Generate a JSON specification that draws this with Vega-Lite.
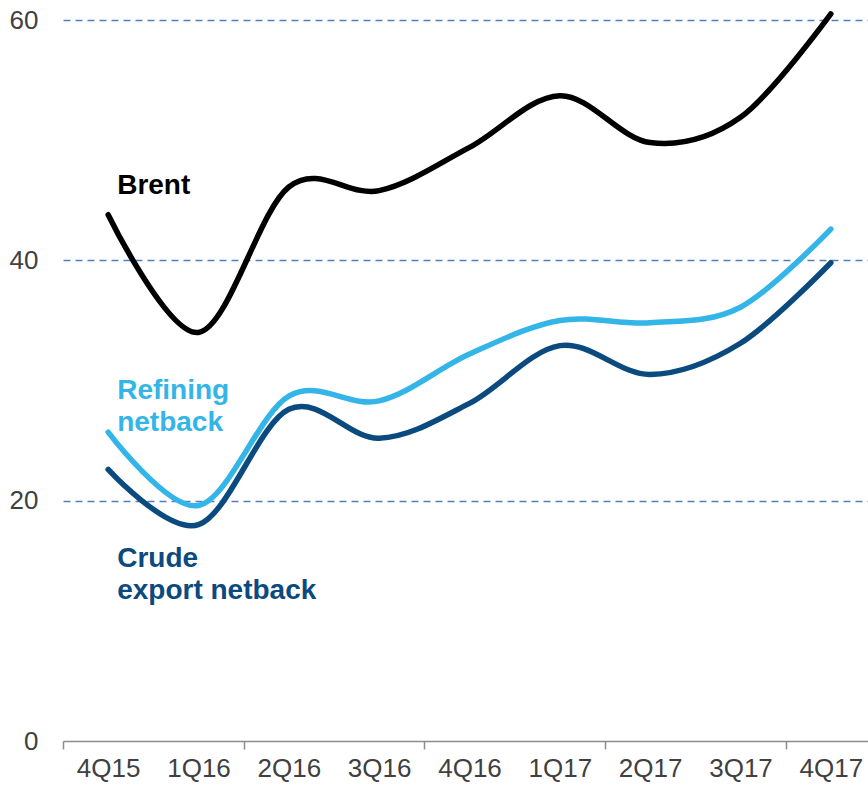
{
  "$schema": "https://vega.github.io/schema/vega-lite/v6.json",
  "width": 813,
  "height": 721,
  "autosize": {"type": "none"},
  "padding": {"left": 63, "top": 20, "right": 0, "bottom": 44},
  "background": "white",
  "config": {"view": {"stroke": null}, "font": "Liberation Sans"},
  "datasets": {
    "lines": [
      {"series": "Brent", "quarter": "4Q15", "value": 43.8},
      {"series": "Brent", "quarter": "1Q16", "value": 34.0},
      {"series": "Brent", "quarter": "2Q16", "value": 46.1},
      {"series": "Brent", "quarter": "3Q16", "value": 45.8},
      {"series": "Brent", "quarter": "4Q16", "value": 49.4},
      {"series": "Brent", "quarter": "1Q17", "value": 53.7},
      {"series": "Brent", "quarter": "2Q17", "value": 49.8},
      {"series": "Brent", "quarter": "3Q17", "value": 51.9},
      {"series": "Brent", "quarter": "4Q17", "value": 60.5},
      {"series": "Refining netback", "quarter": "4Q15", "value": 25.7},
      {"series": "Refining netback", "quarter": "1Q16", "value": 19.6},
      {"series": "Refining netback", "quarter": "2Q16", "value": 28.7},
      {"series": "Refining netback", "quarter": "3Q16", "value": 28.3},
      {"series": "Refining netback", "quarter": "4Q16", "value": 32.2},
      {"series": "Refining netback", "quarter": "1Q17", "value": 35.0},
      {"series": "Refining netback", "quarter": "2Q17", "value": 34.8},
      {"series": "Refining netback", "quarter": "3Q17", "value": 36.1},
      {"series": "Refining netback", "quarter": "4Q17", "value": 42.6},
      {"series": "Crude export netback", "quarter": "4Q15", "value": 22.6},
      {"series": "Crude export netback", "quarter": "1Q16", "value": 18.0},
      {"series": "Crude export netback", "quarter": "2Q16", "value": 27.6},
      {"series": "Crude export netback", "quarter": "3Q16", "value": 25.2},
      {"series": "Crude export netback", "quarter": "4Q16", "value": 28.1},
      {"series": "Crude export netback", "quarter": "1Q17", "value": 32.9},
      {"series": "Crude export netback", "quarter": "2Q17", "value": 30.5},
      {"series": "Crude export netback", "quarter": "3Q17", "value": 33.1},
      {"series": "Crude export netback", "quarter": "4Q17", "value": 39.8}
    ],
    "labels": [
      {"series": "Brent", "quarter": "4Q15", "value": 45.5, "label": ["Brent"]},
      {"series": "Refining netback", "quarter": "4Q15", "value": 28.5, "label": ["Refining", "netback"]},
      {"series": "Crude export netback", "quarter": "4Q15", "value": 14.5, "label": ["Crude", "export netback"]}
    ]
  },
  "layer": [
    {
      "data": {"name": "lines"},
      "mark": {"type": "line", "interpolate": "cardinal", "strokeWidth": 5.5, "strokeCap": "round", "clip": false},
      "encoding": {
        "x": {
          "field": "quarter", "type": "ordinal", "sort": null,
          "scale": {"type": "band", "paddingInner": 0, "paddingOuter": 0},
          "axis": {
            "title": null, "labelAngle": 0, "labelFontSize": 26, "labelColor": "#404040",
            "labelFont": "Liberation Sans", "labelPadding": 6,
            "domainColor": "#8c8c8c", "domainWidth": 1.5,
            "tickBand": "extent", "tickSize": 8, "tickColor": "#8c8c8c", "tickWidth": 1.5,
            "tickOpacity": {"condition": {"test": "datum.extra || indexof(['1Q16','3Q16','1Q17','3Q17'], datum.value) >= 0", "value": 1}, "value": 0},
            "grid": false
          }
        },
        "y": {
          "field": "value", "type": "quantitative",
          "scale": {"domain": [0, 60], "nice": false},
          "axis": {
            "title": null, "values": [0, 20, 40, 60], "labelFontSize": 26, "labelColor": "#404040",
            "labelFont": "Liberation Sans", "labelPadding": 25,
            "domain": false, "ticks": false,
            "grid": true, "gridColor": "#4f81bd", "gridDash": [7, 5], "gridWidth": 1.5,
            "gridOpacity": {"condition": {"test": "datum.value == 0", "value": 0}, "value": 1}
          }
        },
        "color": {
          "field": "series", "type": "nominal",
          "scale": {"domain": ["Brent", "Refining netback", "Crude export netback"], "range": ["#000000", "#33b5e8", "#0b4a7e"]},
          "legend": null
        }
      }
    },
    {
      "data": {"name": "labels"},
      "mark": {"type": "text", "align": "left", "baseline": "alphabetic", "dx": 9, "fontSize": 28, "fontWeight": "bold", "font": "Liberation Sans", "lineHeight": 32},
      "encoding": {
        "x": {"field": "quarter", "type": "ordinal", "sort": null},
        "y": {"field": "value", "type": "quantitative"},
        "text": {"field": "label"},
        "color": {"field": "series", "type": "nominal", "legend": null}
      }
    }
  ]
}
